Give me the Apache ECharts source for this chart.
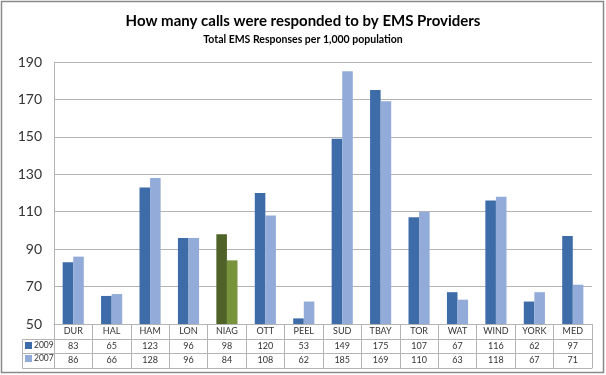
<!DOCTYPE html>
<html><head><meta charset="utf-8">
<script src="https://cdn.jsdelivr.net/npm/echarts@6/dist/echarts.min.js"></script>
<style>html,body{margin:0;padding:0;background:#fff}#c{width:606px;height:375px}</style>
</head><body><div id="c"></div>
<script>
var categories = ['DUR','HAL','HAM','LON','NIAG','OTT','PEEL','SUD','TBAY','TOR','WAT','WIND','YORK','MED'];
var values2009 = [83,65,123,96,98,120,53,149,175,107,67,116,62,97];
var values2007 = [86,66,128,96,84,108,62,185,169,110,63,118,67,71];
var yTicks = [50,70,90,110,130,150,170,190];
var highlightCategory = 'NIAG';

var FONT = 'Lato';
var C2009 = '#3e6ca8', C2007 = '#93abd8';
var H2009 = '#4f6228', H2007 = '#77933c';
var LINE = '#b4b4b4';

function barData(vals, hcol) {
  return vals.map(function (v, i) {
    return categories[i] === highlightCategory ? {value: v, itemStyle: {color: hcol}} : v;
  });
}
function rowAxis(offset, vals, showTick) {
  return {
    type: 'category', data: categories, position: 'bottom', offset: offset, gridIndex: 0,
    axisLine: {show: true, lineStyle: {color: LINE, width: 1}},
    axisTick: {show: showTick, length: 44, lineStyle: {color: LINE}},
    axisLabel: vals ? {show: true, interval: 0, fontFamily: FONT, fontSize: 9, color: '#333', margin: 3,
      formatter: function (v, i) { return vals === 'cat' ? v : String(vals[i]); }} : {show: false},
    splitLine: {show: false}
  };
}
var chart = echarts.init(document.getElementById('c'), null, {renderer: 'canvas'});
chart.setOption({
  animation: false,
  backgroundColor: '#fff',
  title: {
    text: 'How many calls were responded to by EMS Providers',
    subtext: 'Total EMS Responses per 1,000 population',
    left: 'center', top: 9, itemGap: 5,
    textStyle: {fontFamily: FONT, fontSize: 15, fontWeight: 'bold', color: '#000'},
    subtextStyle: {fontFamily: FONT, fontSize: 10.5, fontWeight: 'bold', color: '#000'}
  },
  legend: {
    orient: 'vertical', left: 25, top: 341, itemWidth: 7, itemHeight: 7, itemGap: 4,
    icon: 'rect', textStyle: {fontFamily: FONT, fontSize: 8.5, color: '#333', padding: [0,0,0,-3]},
    padding: 0, selectedMode: false,
    data: ['2009', '2007']
  },
  grid: {left: 54, right: 14, top: 62, bottom: 51},
  xAxis: [
    rowAxis(0, 'cat', true),
    rowAxis(15, values2009, false),
    rowAxis(29, values2007, false),
    rowAxis(44, null, false)
  ],
  yAxis: {
    type: 'value', min: 50, max: 190, interval: 20,
    axisLine: {show: true, lineStyle: {color: LINE}},
    axisTick: {show: false},
    axisLabel: {fontFamily: FONT, fontSize: 14, color: '#333', margin: 12,
      customValues: yTicks},
    splitLine: {lineStyle: {color: LINE}}
  },
  series: [
    {name: '2009', type: 'bar', data: barData(values2009, H2009), itemStyle: {color: C2009},
     barGap: '0%', barCategoryGap: '45%'},
    {name: '2007', type: 'bar', data: barData(values2007, H2007), itemStyle: {color: C2007},
     barGap: '0%', barCategoryGap: '45%'}
  ],
  graphic: [
    {type: 'rect', shape: {x: 1.5, y: 1.5, width: 602, height: 371}, style: {fill: 'none', stroke: '#8a8a8a', lineWidth: 1.5}, silent: true},
    {type: 'polyline', shape: {points: [[54, 339.5], [22.5, 339.5], [22.5, 368.5], [54, 368.5]]}, style: {fill: 'none', stroke: LINE, lineWidth: 1}, silent: true},
    {type: 'line', shape: {x1: 22.5, y1: 353.5, x2: 54, y2: 353.5}, style: {stroke: LINE, lineWidth: 1}, silent: true}
  ]
});
</script></body></html>
